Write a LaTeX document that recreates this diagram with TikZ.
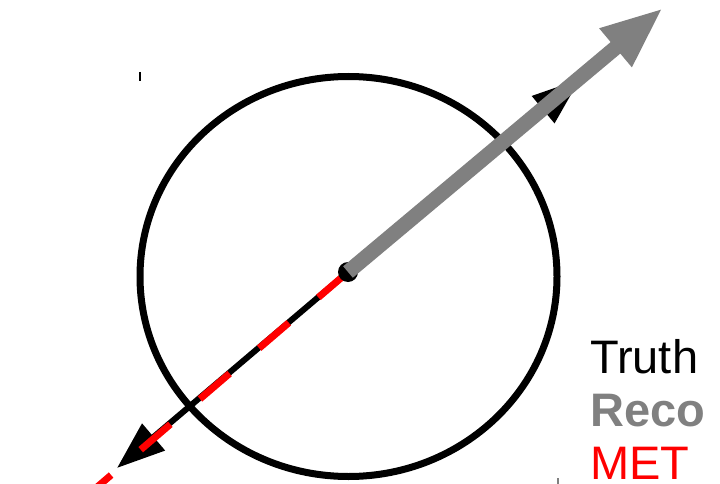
\documentclass[tikz,border=0pt]{standalone}
\usepackage{fontspec}
\setmainfont{Liberation Sans}
\usetikzlibrary{arrows.meta}
\definecolor{recogray}{HTML}{808080}
\definecolor{metred}{HTML}{FF0000}
\tikzset{
  truthline/.style={line width=6pt, draw=black},
  truthtip/.style={-{Triangle[length=48pt,width=34pt]}},
  metline/.style={line width=7pt, draw=metred, dash pattern=on 39pt off 39pt},
  recoline/.style={line width=15pt, draw=recogray, -{Triangle[length=62pt,width=46pt]}},
  legend/.style={anchor=base west, inner sep=0pt, font=\fontsize{47}{56}\selectfont},
}
\begin{document}
\begin{tikzpicture}[x=1pt,y=-1pt]
\clip (0,0) rectangle (720,484);
\fill[white] (0,0) rectangle (720,484);
% circle
\draw[line width=7pt] (348.5,276.5) ellipse [x radius=208.5, y radius=200];
\draw[line width=1.5pt] (140,72) -- (140,81);
\draw[line width=1.5pt, recogray] (558,478) -- (558,484);
% named points
\coordinate (c) at (348,272);
\coordinate (tup) at (580,79);
\coordinate (tdown) at (117,468);
\coordinate (mend) at (40,536);
\coordinate (rtip) at (663,8);
% truth
\draw[truthline, truthtip] (c) -- (tup);
\draw[truthline, truthtip] (c) -- (tdown);
% MET
\draw[metline] (c) -- (mend);
% center dot
\fill[black] (c) circle[radius=10];
% reco
\draw[recoline] (c) -- (rtip);
% legend
\node[legend, text=black] (truth) at (590,373) {Truth};
\node[legend, text=recogray, font=\fontsize{47}{56}\selectfont\bfseries] (reco) at (590,426) {Reco};
\node[legend, text=metred] (met) at (590,479) {MET};
\end{tikzpicture}
\end{document}
